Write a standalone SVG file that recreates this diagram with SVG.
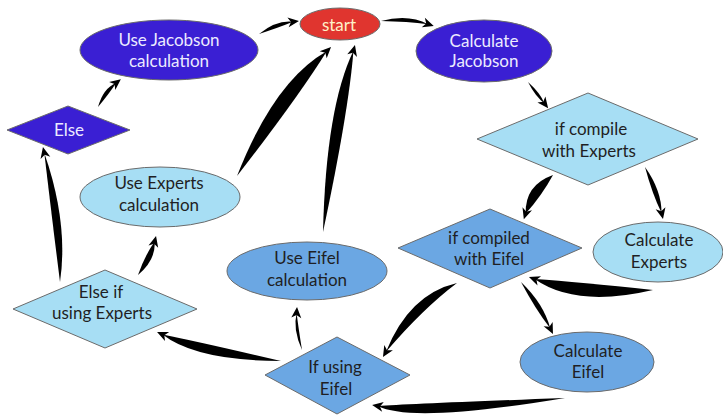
<svg xmlns="http://www.w3.org/2000/svg" xmlns:xlink="http://www.w3.org/1999/xlink" width="723" height="416" viewBox="0 0 723 416">
<style>
  .n { stroke: #6b6b6b; stroke-width: 1; }
  .red { fill: #e0352f; }
  .dark { fill: #3a1fd3; }
  .light { fill: #a7def4; }
  .mid { fill: #6ba7e3; }
  text { font-family: Lato, "Open Sans", "Liberation Sans", sans-serif; font-size: 17px; text-anchor: middle; }
  .tw { fill: #ecebff; }
  .tk { fill: #1f1f24; }
  .ts { fill: #fff1c8; }
  .c path, .c use { fill: #000; stroke: none; }
</style>
<defs>
  <path id="ah" d="M0,0 L-11,-5 L-8,0 L-11,5 Z"/>
</defs>
<rect width="723" height="416" fill="#fff"/>

<g id="connectors" class="c">
  <!-- start -> Calculate Jacobson -->
  <g transform="translate(381 21) rotate(5.4)"><path d="M0,0 Q26.5,-10 47.2,-1.3 Q26.5,-2 0,0 Z"/><use href="#ah" transform="translate(53 0) rotate(12.8)"/></g>
  <!-- Use Jacobson -> start -->
  <g transform="translate(259 34) rotate(-18)"><path d="M0,0 Q21,-8 36.1,-1.1 Q21,0 0,0 Z"/><use href="#ah" transform="translate(42 0) rotate(10.8)"/></g>
  <!-- Else -> Use Jacobson -->
  <g transform="translate(98 107) rotate(-50.6)"><path d="M0,0 Q18,-8 30.1,-1.3 Q18,0 0,0 Z"/><use href="#ah" transform="translate(36 0) rotate(12.5)"/></g>
  <!-- Calculate Jacobson -> if compile with Experts -->
  <g transform="translate(528 82) rotate(52.4)"><path d="M0,0 Q16.5,-3 27,0 Q16.5,3 0,0 Z"/><use href="#ah" transform="translate(33 0)"/></g>
  <!-- if compile with Experts -> if compiled with Eifel -->
  <g transform="translate(553 175) rotate(123.4)"><path d="M0,0 Q23.9,-2 47.2,1.6 Q23.9,18 0,0 Z"/><use href="#ah" transform="translate(53 0) rotate(-15.3)"/></g>
  <!-- if compile with Experts -> Calculate Experts -->
  <g transform="translate(645 167) rotate(70.9)"><path d="M0,0 Q27.5,-8 49,-0.6 Q27.5,2 0,0 Z"/><use href="#ah" transform="translate(55 0) rotate(6.2)"/></g>
  <!-- Calculate Experts -> if compiled with Eifel -->
  <g transform="translate(653 290) rotate(186)"><path d="M0,0 Q74.8,-26 118.9,-1.5 Q74.8,0 0,0 Z"/><use href="#ah" transform="translate(124.7 0) rotate(14.6)"/></g>
  <!-- if compiled with Eifel -> Calculate Eifel -->
  <g transform="translate(521 282) rotate(58.4)"><path d="M0,0 Q30.5,-8 55,-0.6 Q30.5,2 0,0 Z"/><use href="#ah" transform="translate(61 0) rotate(5.6)"/></g>
  <!-- if compiled with Eifel -> If using Eifel -->
  <g transform="translate(457 283) rotate(135)"><path d="M0,0 Q41.9,6 98.9,1.5 Q41.9,26 0,0 Z"/><use href="#ah" transform="translate(104.7 0) rotate(-14.3)"/></g>
  <!-- Calculate Eifel -> If using Eifel -->
  <g transform="translate(565 398) rotate(177.9)"><path d="M0,0 Q154.4,-20 187.1,-1.2 Q154.4,0 0,0 Z"/><use href="#ah" transform="translate(193 0) rotate(11.7)"/></g>
  <!-- If using Eifel -> Else if using Experts -->
  <g transform="translate(281 361) rotate(193.2)"><path d="M0,0 Q82.7,-19 121.4,-1.2 Q82.7,0 0,0 Z"/><use href="#ah" transform="translate(127.3 0) rotate(11.4)"/></g>
  <!-- If using Eifel -> Use Eifel calculation -->
  <g transform="translate(302 350) rotate(263.4)"><path d="M0,0 Q21.6,-7 37.4,-1.1 Q21.6,-1 0,0 Z"/><use href="#ah" transform="translate(43.3 0) rotate(10.5)"/></g>
  <!-- Use Eifel calculation -> start -->
  <g transform="translate(323 232) rotate(-80.3)"><path d="M0,0 Q123.3,-18 183.7,-0.5 Q123.3,5 0,0 Z"/><use href="#ah" transform="translate(189.7 0) rotate(5.2)"/></g>
  <!-- Use Experts calculation -> start -->
  <g transform="translate(237 176) rotate(-53.9)"><path d="M0,0 Q99,-26 153.7,-1 Q99,3 0,0 Z"/><use href="#ah" transform="translate(159.6 0) rotate(9.4)"/></g>
  <!-- Else if using Experts -> Use Experts calculation -->
  <g transform="translate(138 275) rotate(-65.2)"><path d="M0,0 Q21.5,-2 37.1,1.1 Q21.5,10 0,0 Z"/><use href="#ah" transform="translate(43 0) rotate(-10.5)"/></g>
  <!-- Else if using Experts -> Else -->
  <g transform="translate(60 282) rotate(-97.2)"><path d="M0,0 Q57.1,0 130,0.6 Q57.1,16 0,0 Z"/><use href="#ah" transform="translate(136 0) rotate(-5.8)"/></g>
</g>

<g id="start">
  <ellipse class="n red" cx="340" cy="24" rx="40" ry="16"/>
  <text class="ts" x="339" y="31">start</text>
</g>
<g id="use-jacobson">
  <ellipse class="n dark" cx="169" cy="50" rx="89" ry="30"/>
  <text class="tw" x="169" y="46">Use Jacobson</text>
  <text class="tw" x="169" y="67">calculation</text>
</g>
<g id="else">
  <polygon class="n dark" points="7,130 68,106 130,130 68,154"/>
  <text class="tw" x="69" y="136">Else</text>
</g>
<g id="use-experts">
  <ellipse class="n light" cx="160" cy="197" rx="80" ry="30"/>
  <text class="tk" x="159" y="189">Use Experts</text>
  <text class="tk" x="159" y="211">calculation</text>
</g>
<g id="else-if-experts">
  <polygon class="n light" points="13,309 105,270 197,309 105,348"/>
  <text class="tk" x="101" y="298">Else if</text>
  <text class="tk" x="102" y="319">using Experts</text>
</g>
<g id="use-eifel">
  <ellipse class="n mid" cx="307" cy="271" rx="80" ry="29"/>
  <text class="tk" x="307" y="264">Use Eifel</text>
  <text class="tk" x="307" y="286">calculation</text>
</g>
<g id="if-using-eifel">
  <polygon class="n mid" points="265,375 337,337 410,375 337,414"/>
  <text class="tk" x="335" y="373">If using</text>
  <text class="tk" x="336" y="395">Eifel</text>
</g>
<g id="calc-jacobson">
  <ellipse class="n dark" cx="484" cy="51" rx="68" ry="31"/>
  <text class="tw" x="484" y="47">Calculate</text>
  <text class="tw" x="484" y="67">Jacobson</text>
</g>
<g id="if-compile-experts">
  <polygon class="n light" points="477,139 588,93 698,139 588,185"/>
  <text class="tk" x="591" y="135">if compile</text>
  <text class="tk" x="589" y="157">with Experts</text>
</g>
<g id="if-compiled-eifel">
  <polygon class="n mid" points="398,248 490,209 582,248 490,288"/>
  <text class="tk" x="489" y="244">if compiled</text>
  <text class="tk" x="489" y="265">with Eifel</text>
</g>
<g id="calc-experts">
  <ellipse class="n light" cx="658" cy="252" rx="65" ry="30"/>
  <text class="tk" x="659" y="246">Calculate</text>
  <text class="tk" x="659" y="268">Experts</text>
</g>
<g id="calc-eifel">
  <ellipse class="n mid" cx="587" cy="362" rx="67" ry="30"/>
  <text class="tk" x="588" y="357">Calculate</text>
  <text class="tk" x="588" y="378">Eifel</text>
</g>
</svg>
